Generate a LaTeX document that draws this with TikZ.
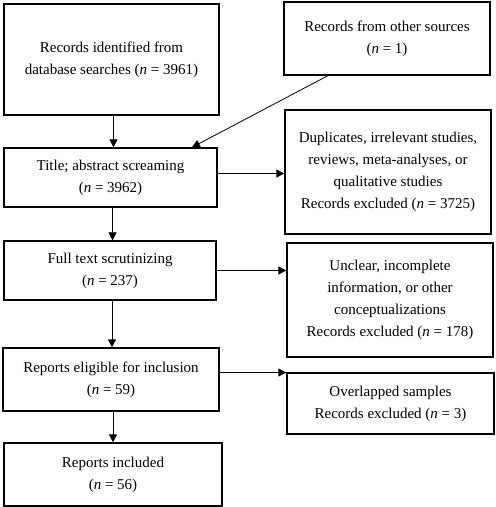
\documentclass[tikz,border=0pt]{standalone}
\usepackage{fontspec}
\setmainfont{Liberation Serif}
\usepackage{tikz}
\usetikzlibrary{arrows.meta, calc, positioning}
\tikzstyle{box}=[shape=rectangle,draw=black,line width=1.3pt,align=center,inner sep=0pt,font=\fontsize{15}{22}\selectfont]
\tikzstyle{mainedge}=[-{Triangle[length=8pt,width=8pt]},line width=0.8pt]
\newcommand{\nn}{\textit{n}}

\begin{document}
\begin{tikzpicture}[x=1pt,y=-1pt]
\useasboundingbox (0,0) rectangle (496,507);
%\draw[step=10pt,gray,very thin] (0,0) grid (496,507);
\node[box,minimum width=215pt,minimum height=111pt] (ident) at (111.5,59.5){Records identified from\\database searches (\nn{} = 3961)};
\node[box,minimum width=206pt,minimum height=73pt] (other) at (387,38.5){Records from other sources\\(\nn{} = 1)};
\node[box,minimum width=213pt,minimum height=59pt] (title) at (110.5,177.5){Title; abstract screaming\\(\nn{} = 3962)};
\node[box,minimum width=206pt,minimum height=124pt] (dupl) at (388,172){Duplicates, irrelevant studies,\\reviews, meta-analyses, or\\qualitative studies\\Records excluded (\nn{} = 3725)};
\node[box,minimum width=212pt,minimum height=59pt] (full) at (110,270.5){Full text scrutinizing\\(\nn{} = 237)};
\node[box,minimum width=206pt,minimum height=114pt] (unclear) at (390,300){Unclear, incomplete\\information, or other\\conceptualizations\\Records excluded (\nn{} = 178)};
\node[box,minimum width=216pt,minimum height=63pt] (elig) at (111,379.5){Reports eligible for inclusion\\(\nn{} = 59)};
\node[box,minimum width=207pt,minimum height=61pt] (overl) at (390.5,403.5){Overlapped samples\\Records excluded (\nn{} = 3)};
\node[box,minimum width=218pt,minimum height=63pt] (incl) at (113,474.5){Reports included\\(\nn{} = 56)};

\draw[mainedge] ([xshift=2pt]ident.south) -- ([xshift=2pt]ident.south |- title.north);
\draw[mainedge] ($(other.south west)!0.215!(other.south east)$) -- ($(title.north west)!0.88!(title.north east)$);
\draw[mainedge] ([yshift=4pt]title.east) -- ([yshift=4pt]title.east -| dupl.west);
\draw[mainedge] ([xshift=2pt]title.south) -- ([xshift=2pt]title.south |- full.north);
\draw[mainedge] (full.east) -- (full.east -| unclear.west);
\draw[mainedge] ([xshift=2pt]full.south) -- ([xshift=2pt]full.south |- elig.north);
\draw[mainedge] ([yshift=7pt]elig.east) -- ([yshift=7pt]elig.east -| overl.west);
\draw[mainedge] ([xshift=2pt]elig.south) -- ([xshift=2pt]elig.south |- incl.north);

\end{tikzpicture}
\end{document}
